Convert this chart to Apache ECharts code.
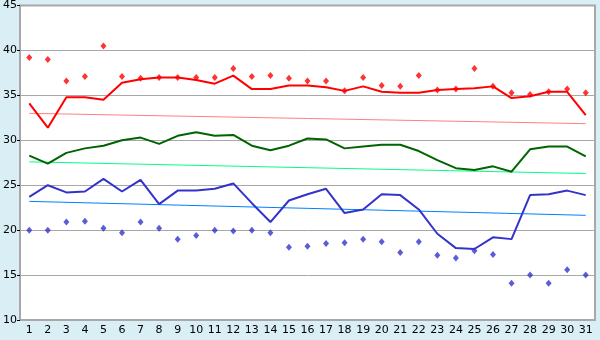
<!DOCTYPE html>
<html><head><meta charset="utf-8">
<script src="https://cdn.jsdelivr.net/npm/echarts@6/dist/echarts.min.js"></script>
<style>html,body{margin:0;padding:0;background:#d9eef5;}#c{width:600px;height:340px;}</style>
</head><body><div id="c"></div>
<script>
var categories = ['1','2','3','4','5','6','7','8','9','10','11','12','13','14','15','16','17','18','19','20','21','22','23','24','25','26','27','28','29','30','31'];
var maxPoints = [39.2,39.0,36.6,37.1,40.5,37.1,36.9,37.0,37.0,37.0,37.0,38.0,37.1,37.2,36.9,36.6,36.6,35.5,37.0,36.1,36.0,37.2,35.6,35.7,38.0,36.0,35.3,35.1,35.4,35.7,35.3];
var redLine = [34.1,31.4,34.8,34.8,34.5,36.4,36.8,37.0,37.0,36.7,36.3,37.2,35.7,35.7,36.1,36.1,35.9,35.5,36.0,35.4,35.3,35.3,35.6,35.7,35.8,36.0,34.7,34.9,35.4,35.4,32.8];
var greenLine = [28.3,27.4,28.6,29.1,29.4,30.0,30.3,29.6,30.5,30.9,30.5,30.6,29.4,28.9,29.4,30.2,30.1,29.1,29.3,29.5,29.5,28.8,27.8,26.9,26.7,27.1,26.5,29.0,29.3,29.3,28.2];
var blueLine = [23.7,25.0,24.2,24.3,25.7,24.3,25.6,22.9,24.4,24.4,24.6,25.2,23.0,20.9,23.3,24.0,24.6,21.9,22.3,24.0,23.9,22.3,19.6,18.0,17.9,19.2,19.0,23.9,24.0,24.4,23.9];
var minPoints = [20.0,20.0,20.9,21.0,20.2,19.7,20.9,20.2,19.0,19.4,20.0,19.9,20.0,19.7,18.1,18.2,18.5,18.6,19.0,18.7,17.5,18.7,17.2,16.9,17.7,17.3,14.1,15.0,14.1,15.6,15.0];
var redTrendEnds = [33.0, 31.85];
var greenTrendEnds = [27.6, 26.3];
var blueTrendEnds = [23.2, 21.65];
var yTicks = {min: 10, max: 45, interval: 5};

function trendData(ends){
  var n = categories.length, d = [];
  for (var i = 0; i < n; i++) d.push(i === 0 ? ends[0] : (i === n - 1 ? ends[1] : null));
  return d;
}
var chart = echarts.init(document.getElementById('c'), null, {renderer:'canvas'});
var font = 'DejaVu Sans';
chart.setOption({
  backgroundColor: '#d9eef5',
  animation: false,
  grid: {left: 20, right: 5, top: 5, bottom: 20, show: true, backgroundColor: '#ffffff', borderColor: '#a8a8a8', borderWidth: 2},
  xAxis: {
    type: 'category', data: categories, boundaryGap: true,
    axisLine: {lineStyle: {color: '#a8a8a8', width: 1}},
    axisTick: {alignWithLabel: true, length: 4, lineStyle: {color: '#000000'}},
    axisLabel: {color: '#000', fontFamily: font, fontSize: 11, margin: 5, interval: 0},
    splitLine: {show: false}
  },
  yAxis: {
    type: 'value', min: yTicks.min, max: yTicks.max, interval: yTicks.interval,
    axisLine: {show: true, lineStyle: {color: '#a8a8a8'}},
    axisTick: {show: true, length: 3, lineStyle: {color: '#000'}},
    axisLabel: {color: '#000', fontFamily: font, fontSize: 11, margin: 3},
    splitLine: {lineStyle: {color: '#a8a8a8', width: 1}}
  },
  series: [
    {type:'line', data: trendData(redTrendEnds), connectNulls: true, symbol:'none', lineStyle:{color:'#ff8080', width:1}, z:1},
    {type:'line', data: trendData(greenTrendEnds), connectNulls: true, symbol:'none', lineStyle:{color:'#00ff80', width:1}, z:1},
    {type:'line', data: trendData(blueTrendEnds), connectNulls: true, symbol:'none', lineStyle:{color:'#0080ff', width:1}, z:1},
    {type:'line', data: redLine, symbol:'none', lineStyle:{color:'#ff0000', width:2}, z:3},
    {type:'line', data: greenLine, symbol:'none', lineStyle:{color:'#006400', width:2}, z:3},
    {type:'line', data: blueLine, symbol:'none', lineStyle:{color:'#3333cc', width:2}, z:3},
    {type:'scatter', data: maxPoints, symbol:'diamond', symbolSize:[6,7], itemStyle:{color:'#ff0000'}, z:4},
    {type:'scatter', data: minPoints, symbol:'diamond', symbolSize:[6,7], itemStyle:{color:'#3333cc'}, z:4}
  ]
});
</script></body></html>
